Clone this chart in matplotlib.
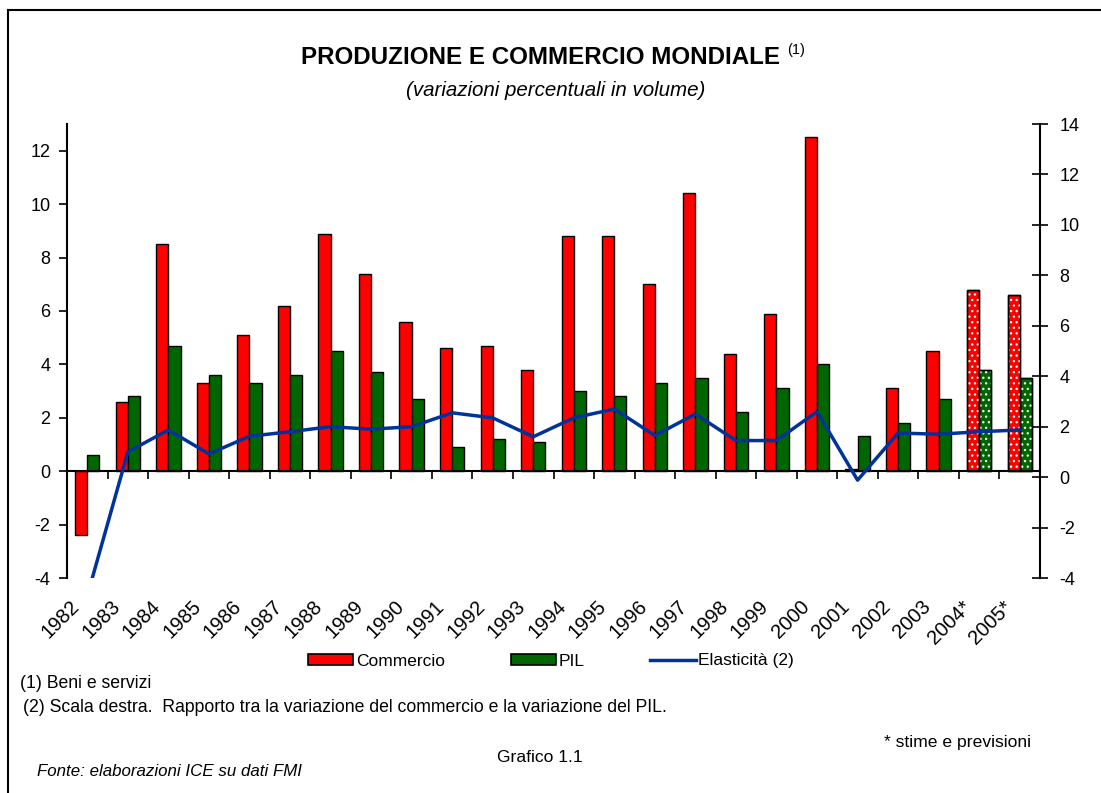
"""
Produzione e commercio mondiale: bar chart with elasticity line on the right scale.
"""
import numpy as np
import matplotlib.pyplot as plt
from matplotlib.patches import Patch
from matplotlib.lines import Line2D

plt.rcParams['font.family'] = ['Liberation Sans', 'DejaVu Sans']
plt.rcParams['axes.unicode_minus'] = False

# Data
years = ['1982', '1983', '1984', '1985', '1986', '1987', '1988', '1989', '1990',
         '1991', '1992', '1993', '1994', '1995', '1996', '1997', '1998', '1999',
         '2000', '2001', '2002', '2003', '2004*', '2005*']
commercio = [-2.4, 2.6, 8.5, 3.3, 5.1, 6.2, 8.9, 7.4, 5.6, 4.6, 4.7, 3.8,
             8.8, 8.8, 7.0, 10.4, 4.4, 5.9, 12.5, 0.1, 3.1, 4.5, 6.8, 6.6]
pil = [0.6, 2.8, 4.7, 3.6, 3.3, 3.6, 4.5, 3.7, 2.7, 0.9, 1.2, 1.1,
       3.0, 2.8, 3.3, 3.5, 2.2, 3.1, 4.0, 1.3, 1.8, 2.7, 3.8, 3.5]
elasticita = [-4.7, 1.0, 1.87, 0.92, 1.62, 1.8, 2.0, 1.9, 2.0, 2.55, 2.35, 1.6,
              2.35, 2.7, 1.65, 2.5, 1.45, 1.45, 2.6, -0.12, 1.75, 1.7, 1.8, 1.87]
stime = [22, 23]  # indices of estimated years

RED = '#ff0000'
GREEN = '#006600'
BLUE = '#003399'

fig = plt.figure(figsize=(11.01, 7.93), dpi=100)
ax = fig.add_axes([0.0609, 0.2711, 0.8837, 0.5725])
ax2 = ax.twinx()

x = np.arange(len(years))
w = 0.3
com = np.array(commercio)
gdp = np.array(pil)

# Bars
ax.bar(x - w / 2, com, w, color=RED, edgecolor='black', linewidth=1.0, zorder=2)
ax.bar(x + w / 2, gdp, w, color=GREEN, edgecolor='black', linewidth=1.0, zorder=2)

# Dotted pattern for the estimates (white hatch, then black edge again on top)
plt.rcParams['hatch.linewidth'] = 0.9
for off, vals in ((-w / 2, com), (w / 2, gdp)):
    ax.bar(x[stime] + off, vals[stime], w, fill=False, hatch='...',
           edgecolor='white', linewidth=0, zorder=3)
    ax.bar(x[stime] + off, vals[stime], w, fill=False, edgecolor='black',
           linewidth=1.0, zorder=4)

# Elasticity line on the right scale
ax2.plot(x, elasticita, color=BLUE, linewidth=2.5, zorder=5)

# Left axis
ax.set_xlim(-0.5, len(years) - 0.5)
ax.set_ylim(-4, 13)
ax.set_yticks(np.arange(-4, 13, 2))
ax.tick_params(axis='y', direction='out', length=6, width=1.2, labelsize=13, pad=6)
ax.spines['top'].set_visible(False)
ax.spines['right'].set_visible(False)
ax.spines['left'].set_linewidth(1.5)
ax.spines['bottom'].set_position(('data', 0))
ax.spines['bottom'].set_linewidth(1.5)
ax.set_xticks([])
ax.set_xticks(np.arange(-0.5, len(years), 1), minor=True)
ax.tick_params(axis='x', which='minor', direction='out', length=6, width=1.2)
ax.tick_params(axis='x', which='major', length=0)

# Year labels under the plot area
for i, lab in enumerate(years):
    ax.annotate(lab, xy=(i, 0), xycoords=('data', 'axes fraction'),
                xytext=(-4, -19), textcoords='offset pixels',
                rotation=45, ha='right', va='top', fontsize=14.5)

# Right axis
ax2.set_ylim(-4, 14)
ax2.set_yticks(np.arange(-4, 15, 2))
ax2.tick_params(axis='y', direction='inout', length=12, width=1.2, labelsize=13, pad=8)
for s in ('top', 'left', 'bottom'):
    ax2.spines[s].set_visible(False)
ax2.spines['right'].set_linewidth(1.5)

# Titles
fig.text(0.4905, 1 - 58 / 793, 'PRODUZIONE E COMMERCIO MONDIALE', ha='center', va='center',
         fontsize=17.4, fontweight='bold')
fig.text(787 / 1101, 1 - 50 / 793, '(1)', ha='left', va='center', fontsize=10.5)
fig.text(556 / 1101, 1 - 91 / 793, '(variazioni percentuali in volume)', ha='center',
         va='center', fontsize=14.8, style='italic')

# Legend
handles = [Patch(facecolor=RED, edgecolor='black', linewidth=1.2),
           Patch(facecolor=GREEN, edgecolor='black', linewidth=1.2),
           Line2D([], [], color=BLUE, linewidth=2.5)]
fig.legend(handles, ['Commercio', 'PIL', 'Elasticità (2)'], loc='center',
           bbox_to_anchor=(551 / 1101, 1 - 661 / 793), ncol=3, frameon=False,
           fontsize=12.5, handlelength=2.6, handleheight=0.55, handletextpad=0.15,
           columnspacing=3.8)

# Notes
fig.text(20 / 1101, 1 - 683 / 793, '(1) Beni e servizi', fontsize=12.7, va='center')
fig.text(23 / 1101, 1 - 708 / 793,
         '(2) Scala destra.  Rapporto tra la variazione del commercio e la variazione del PIL.',
         fontsize=12.7, va='center')
fig.text(1031 / 1101, 1 - 742 / 793, '* stime e previsioni', fontsize=12.6, va='center', ha='right')
fig.text(540 / 1101, 1 - 757 / 793, 'Grafico 1.1', fontsize=12.6, va='center', ha='center')
fig.text(37 / 1101, 1 - 771 / 793, 'Fonte: elaborazioni ICE su dati FMI', fontsize=12.2,
         va='center', style='italic')

# Page frame (top and left border)
fig.add_artist(Line2D([8 / 1101, 1], [1 - 10 / 793, 1 - 10 / 793], color='black', linewidth=1.5))
fig.add_artist(Line2D([8 / 1101, 8 / 1101], [0, 1 - 10 / 793], color='black', linewidth=1.5))

fig.savefig('out.png', dpi=100)
